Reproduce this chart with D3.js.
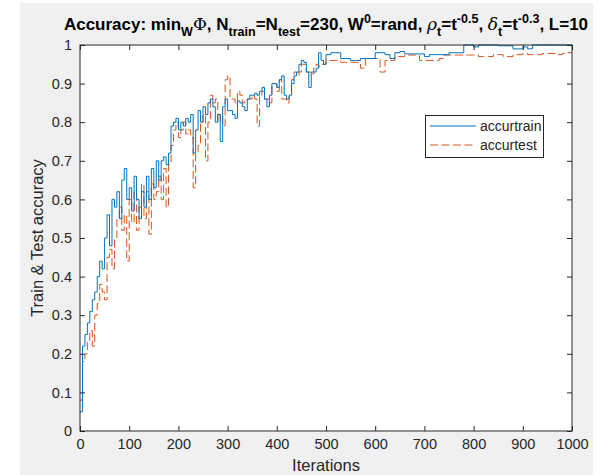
<!DOCTYPE html>
<html>
<head>
<meta charset="utf-8">
<script src="https://cdn.jsdelivr.net/npm/d3@7"></script>
<style>
  html, body { margin: 0; padding: 0; background: #ffffff; }
  svg { display: block; font-family: "Liberation Sans", Arial, sans-serif; }
</style>
</head>
<body>
<svg id="chart" width="605" height="475"></svg>
<script>
const iterations = [0,5,10,15,20,25,30,35,40,45,50,55,60,65,70,75,80,85,90,95,
  100,105,110,115,120,125,130,135,140,145,150,155,160,165,170,175,180,185,190,195,
  200,205,210,215,220,225,230,235,240,245,250,255,260,265,270,275,280,285,290,295,
  300,305,310,315,320,325,330,335,340,345,350,355,360,365,370,375,380,385,390,395,
  400,405,410,415,420,425,430,435,440,445,450,455,460,465,470,475,480,485,490,495,
  500,510,520,530,540,550,560,570,580,590,600,610,620,630,640,650,660,670,680,690,
  700,710,720,730,740,750,760,770,780,790,800,810,820,830,840,850,860,870,880,890,
  900,910,920,930,940,950,960,970,980,990,1000];

const accurtrain = [0.05,0.22,0.25,0.28,0.31,0.34,0.36,0.40,0.44,0.42,0.50,0.56,0.48,0.60,0.58,0.62,0.55,0.65,0.68,0.60,
  0.63,0.57,0.66,0.60,0.55,0.62,0.58,0.66,0.60,0.68,0.63,0.70,0.65,0.70,0.71,0.69,0.72,0.79,0.80,0.81,
  0.78,0.80,0.79,0.81,0.80,0.82,0.72,0.78,0.83,0.80,0.84,0.82,0.85,0.86,0.84,0.80,0.82,0.75,0.84,0.86,
  0.83,0.83,0.82,0.81,0.855,0.85,0.84,0.83,0.86,0.87,0.87,0.875,0.87,0.88,0.89,0.86,0.84,0.87,0.90,0.90,
  0.89,0.91,0.92,0.87,0.86,0.87,0.90,0.92,0.93,0.95,0.96,0.955,0.93,0.89,0.93,0.93,0.94,0.98,0.96,0.95,
  0.975,0.98,0.98,0.965,0.965,0.96,0.96,0.965,0.965,0.965,0.98,0.98,0.975,0.965,0.98,0.983,0.977,0.977,0.977,0.977,
  0.97,0.975,0.975,0.975,0.975,0.98,0.98,0.98,1.0,1.0,0.995,1.0,1.0,1.0,1.0,0.998,0.998,0.998,0.99,0.99,
  0.995,0.99,1.0,1.0,1.0,1.0,1.0,1.0,1.0,1.0,1.0];

const accurtest = [0.08,0.18,0.20,0.23,0.26,0.22,0.30,0.33,0.38,0.36,0.34,0.45,0.47,0.42,0.50,0.55,0.58,0.52,0.56,0.44,
  0.60,0.54,0.62,0.52,0.58,0.64,0.55,0.62,0.51,0.64,0.60,0.62,0.66,0.60,0.68,0.58,0.69,0.74,0.78,0.80,
  0.76,0.78,0.80,0.77,0.78,0.76,0.63,0.72,0.74,0.80,0.82,0.70,0.80,0.87,0.85,0.86,0.80,0.82,0.79,0.91,
  0.92,0.86,0.86,0.85,0.88,0.87,0.85,0.855,0.86,0.86,0.87,0.86,0.79,0.87,0.88,0.86,0.86,0.85,0.90,0.90,
  0.88,0.91,0.86,0.86,0.85,0.87,0.91,0.93,0.92,0.93,0.95,0.95,0.93,0.93,0.925,0.94,0.95,0.945,0.95,0.95,
  0.96,0.96,0.96,0.955,0.955,0.955,0.955,0.94,0.965,0.965,0.965,0.93,0.96,0.96,0.97,0.97,0.974,0.974,0.974,0.96,
  0.96,0.96,0.96,0.965,0.974,0.974,0.974,0.974,0.974,0.974,0.974,0.97,0.97,0.97,0.975,0.975,0.97,0.97,0.975,0.975,
  0.978,0.975,0.975,0.975,0.978,0.978,0.978,0.975,0.978,0.98,0.98];

const xTicks = [0,100,200,300,400,500,600,700,800,900,1000];
const yTicks = [0,0.1,0.2,0.3,0.4,0.5,0.6,0.7,0.8,0.9,1];
const seriesNames = ["accurtrain","accurtest"];
const seriesColors = ["#0072BD","#D95319"];

const svg = d3.select("#chart");
const W = 605, H = 475;
const m = {left: 80, right: 572, top: 45, bottom: 431};

// figure background
svg.append("rect").attr("x", 20).attr("y", 3).attr("width", 573).attr("height", H - 3).attr("fill", "#f0f0f0");
svg.append("rect").attr("x", m.left).attr("y", m.top).attr("width", m.right - m.left).attr("height", m.bottom - m.top).attr("fill", "#ffffff");

const x = d3.scaleLinear().domain([0, 1000]).range([m.left, m.right]);
const y = d3.scaleLinear().domain([0, 1]).range([m.bottom, m.top]);

svg.append("defs").append("clipPath").attr("id", "clip")
  .append("rect").attr("x", m.left).attr("y", m.top - 1).attr("width", m.right - m.left).attr("height", m.bottom - m.top + 2);

const line = d3.line().x(d => x(d[0])).y(d => y(d[1])).curve(d3.curveStepAfter);
const g = svg.append("g").attr("clip-path", "url(#clip)");
g.append("path").datum(iterations.map((it, i) => [it, accurtest[i]]))
  .attr("d", line).attr("fill", "none").attr("stroke", seriesColors[1]).attr("stroke-width", 1)
  .attr("stroke-dasharray", "8,3.5");
g.append("path").datum(iterations.map((it, i) => [it, accurtrain[i]]))
  .attr("d", line).attr("fill", "none").attr("stroke", seriesColors[0]).attr("stroke-width", 1);

const axisColor = "#262626";
const tickLen = 5;
// axes
const xAxis = svg.append("g").attr("transform", `translate(0,${m.bottom})`)
  .call(d3.axisBottom(x).tickValues(xTicks).tickSize(-tickLen).tickPadding(8).tickFormat(d3.format("d")));
const xAxisTop = svg.append("g").attr("transform", `translate(0,${m.top})`)
  .call(d3.axisTop(x).tickValues(xTicks).tickSize(-tickLen).tickFormat(""));
const yAxis = svg.append("g").attr("transform", `translate(${m.left},0)`)
  .call(d3.axisLeft(y).tickValues(yTicks).tickSize(-tickLen).tickPadding(8).tickFormat(d => d === 0 || d === 1 ? String(d) : d3.format(".1f")(d)));
const yAxisR = svg.append("g").attr("transform", `translate(${m.right},0)`)
  .call(d3.axisRight(y).tickValues(yTicks).tickSize(-tickLen).tickFormat(""));

[xAxis, xAxisTop, yAxis, yAxisR].forEach(a => {
  a.selectAll(".tick line").attr("stroke", axisColor).attr("stroke-width", 1);
  a.selectAll("text").attr("fill", axisColor).style("font-size", "14.5px").style("font-family", "'Liberation Sans', Arial, sans-serif");
  a.select(".domain").remove();
});
// box lines
svg.append("rect").attr("x", m.left).attr("y", m.top).attr("width", m.right - m.left).attr("height", m.bottom - m.top)
  .attr("fill", "none").attr("stroke", axisColor).attr("stroke-width", 1);

// axis labels
svg.append("text").attr("x", (m.left + m.right) / 2).attr("y", 471).attr("text-anchor", "middle")
  .attr("fill", axisColor).style("font-size", "16.5px").text("Iterations");
svg.append("text").attr("transform", `translate(43,${(m.top + m.bottom) / 2}) rotate(-90)`).attr("text-anchor", "middle")
  .attr("fill", axisColor).style("font-size", "16.5px").text("Train & Test accuracy");

// title
const title = svg.append("text").attr("x", (m.left + m.right) / 2).attr("y", 30).attr("text-anchor", "middle")
  .attr("fill", "#000").style("font-size", "17px").style("font-weight", "bold");
const parts = [
  ["Accuracy: min", 0], ["W", 1], ["\u03A6", 0, "serif"], [", N", 0], ["train", 1], ["=N", 0], ["test", 1],
  ["=230, W", 0], ["0", -1], ["=rand, ", 0], ["\u03C1", 0, "serif"], ["t", 1], ["=t", 0], ["-0.5", -1],
  [", ", 0], ["\u03B4", 0, "serif"], ["t", 1], ["=t", 0], ["-0.3", -1], [", L=10", 0]
];
let prev = 0;
parts.forEach(p => {
  const ts = title.append("tspan").text(p[0]);
  const shift = p[1] === 1 ? 6 : (p[1] === -1 ? -7 : 0);
  ts.attr("dy", shift - prev);
  prev = shift;
  if (p[1] !== 0) ts.style("font-size", "12.5px");
  if (p[2]) ts.style("font-family", "'DejaVu Serif', 'Liberation Serif', serif").style("font-style", p[0] === "\u03A6" ? "normal" : "italic").style("font-weight", "normal");
});

// legend
const lg = svg.append("g");
lg.append("rect").attr("x", 425.5).attr("y", 115.5).attr("width", 118).attr("height", 42)
  .attr("fill", "#ffffff").attr("stroke", axisColor).attr("stroke-width", 1);
seriesNames.forEach((name, i) => {
  const yy = 126 + i * 19;
  lg.append("line").attr("x1", 430).attr("x2", 476).attr("y1", yy).attr("y2", yy)
    .attr("stroke", seriesColors[i]).attr("stroke-width", 1)
    .attr("stroke-dasharray", i === 1 ? "8,3.5" : null);
  lg.append("text").attr("x", 480).attr("y", yy + 5).attr("fill", axisColor)
    .style("font-size", "14px").text(name);
});
</script>
</body>
</html>
